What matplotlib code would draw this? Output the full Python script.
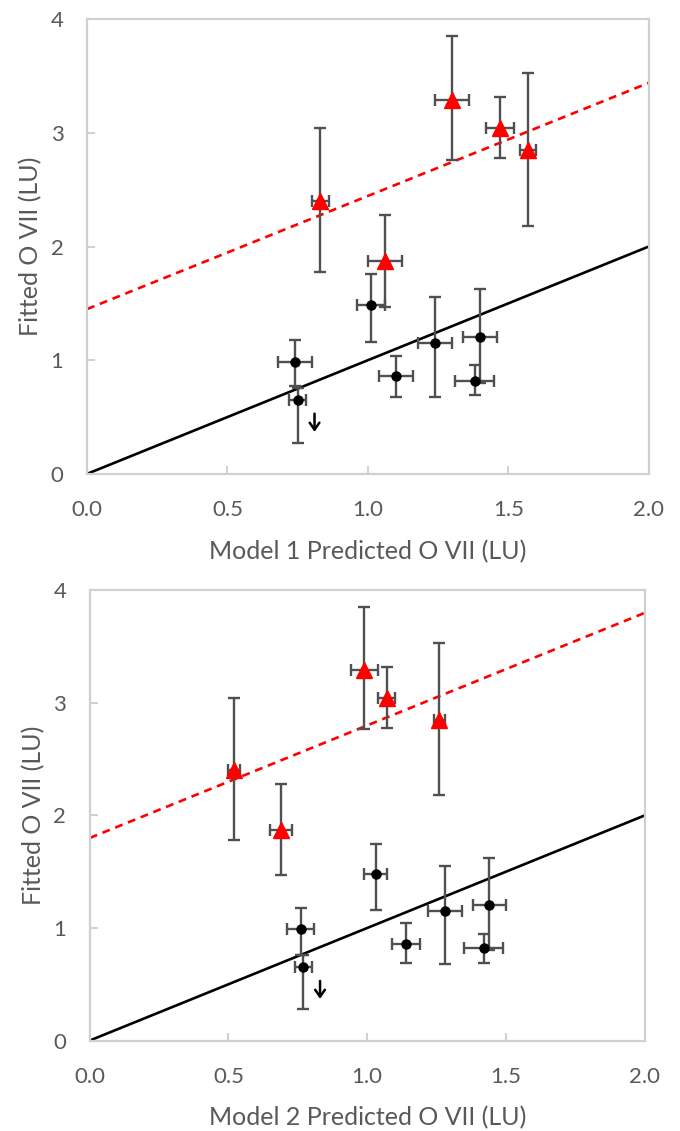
import matplotlib
matplotlib.use("Agg")
import numpy as np
import matplotlib.pyplot as plt

plt.rcParams["font.family"] = ["Lato", "DejaVu Sans"]

# ---- Model 1 (top panel) ----
m1_red_x = [0.83, 1.06, 1.30, 1.47, 1.57]
m1_red_xerr = [0.03, 0.06, 0.06, 0.05, 0.03]
m1_red_y = [2.40, 1.87, 3.29, 3.04, 2.85]
m1_red_ylo = [1.78, 1.47, 2.76, 2.78, 2.18]
m1_red_yhi = [3.04, 2.28, 3.85, 3.32, 3.53]

m1_blk_x = [0.74, 0.75, 1.01, 1.10, 1.24, 1.40, 1.38]
m1_blk_xerr = [0.06, 0.03, 0.05, 0.06, 0.06, 0.06, 0.07]
m1_blk_y = [0.98, 0.65, 1.49, 0.86, 1.15, 1.20, 0.82]
m1_blk_ylo = [0.77, 0.27, 1.16, 0.68, 0.68, 0.80, 0.69]
m1_blk_yhi = [1.18, 0.76, 1.76, 1.04, 1.56, 1.63, 0.96]

m1_fit = (1.45, 3.44)     # dashed line value at x=0 and x=2
m1_arrow_x = 0.81

# ---- Model 2 (bottom panel) ----
m2_red_x = [0.52, 0.69, 0.99, 1.07, 1.26]
m2_red_xerr = [0.02, 0.04, 0.05, 0.03, 0.02]
m2_red_y = [2.40, 1.87, 3.29, 3.04, 2.85]
m2_red_ylo = [1.78, 1.47, 2.77, 2.78, 2.18]
m2_red_yhi = [3.04, 2.28, 3.85, 3.32, 3.53]

m2_blk_x = [0.76, 0.77, 1.03, 1.14, 1.28, 1.44, 1.42]
m2_blk_xerr = [0.05, 0.03, 0.04, 0.05, 0.06, 0.06, 0.07]
m2_blk_y = [0.99, 0.65, 1.48, 0.86, 1.15, 1.20, 0.82]
m2_blk_ylo = [0.76, 0.28, 1.16, 0.69, 0.68, 0.80, 0.69]
m2_blk_yhi = [1.18, 0.76, 1.75, 1.04, 1.55, 1.62, 0.95]

m2_fit = (1.80, 3.80)
m2_arrow_x = 0.83

arrow_top, arrow_bot = 0.53, 0.37

x_ticks = [0.0, 0.5, 1.0, 1.5, 2.0]
y_ticks = [0, 1, 2, 3, 4]

GRAY = "#595959"
ERR = "#505050"


def draw_panel(ax, rx, rxe, ry, rlo, rhi, bx, bxe, by, blo, bhi, fit, arrow_x, xlabel):
    ax.plot([0, 2], [0, 2], color="black", lw=1.9, zorder=2)
    ax.plot([0, 2], list(fit), color="red", lw=1.9, ls=(0, (3, 2.2)), zorder=2)

    ry = np.array(ry)
    by = np.array(by)
    ryerr = [ry - np.array(rlo), np.array(rhi) - ry]
    byerr = [by - np.array(blo), np.array(bhi) - by]

    ax.errorbar(bx, by, xerr=bxe, yerr=byerr, fmt="o", color="black", ms=6.5,
                ecolor=ERR, elinewidth=1.7, capsize=4.5, capthick=1.7, zorder=3)
    ax.errorbar(rx, ry, xerr=rxe, yerr=ryerr, fmt="^", color="red", ms=11,
                ecolor=ERR, elinewidth=1.7, capsize=4.5, capthick=1.7, zorder=3)

    # upper-limit arrow
    ax.annotate("", xy=(arrow_x, arrow_bot), xytext=(arrow_x, arrow_top),
                arrowprops=dict(arrowstyle="->,head_length=0.5,head_width=0.35",
                                color="black", lw=1.8, shrinkA=0, shrinkB=0))

    ax.set_xlim(0, 2)
    ax.set_ylim(0, 4)
    ax.set_xticks(x_ticks)
    ax.set_xticklabels([f"{t:.1f}" for t in x_ticks])
    ax.set_yticks(y_ticks)
    ax.tick_params(axis="x", direction="in", length=6, width=1.2, color="#c8c8c8",
                   labelsize=16, labelcolor=GRAY, pad=19)
    ax.tick_params(axis="y", direction="in", length=6, width=1.2, color="#c8c8c8",
                   labelsize=16, labelcolor=GRAY, pad=17)
    for s in ax.spines.values():
        s.set_color("#d0d0d0")
        s.set_linewidth(1.6)
    ax.set_xlabel(xlabel, fontsize=18, color=GRAY, labelpad=14)
    ax.set_ylabel("Fitted O VII (LU)", fontsize=18, color=GRAY, labelpad=6)


fig = plt.figure(figsize=(6.8, 11.31), dpi=100)
ax1 = fig.add_axes([0.128, 0.581, 0.826, 0.402])
ax2 = fig.add_axes([0.132, 0.080, 0.816, 0.398])

draw_panel(ax1, m1_red_x, m1_red_xerr, m1_red_y, m1_red_ylo, m1_red_yhi,
           m1_blk_x, m1_blk_xerr, m1_blk_y, m1_blk_ylo, m1_blk_yhi,
           m1_fit, m1_arrow_x, "Model 1 Predicted O VII (LU)")
draw_panel(ax2, m2_red_x, m2_red_xerr, m2_red_y, m2_red_ylo, m2_red_yhi,
           m2_blk_x, m2_blk_xerr, m2_blk_y, m2_blk_ylo, m2_blk_yhi,
           m2_fit, m2_arrow_x, "Model 2 Predicted O VII (LU)")

fig.savefig("out.png", dpi=100)
